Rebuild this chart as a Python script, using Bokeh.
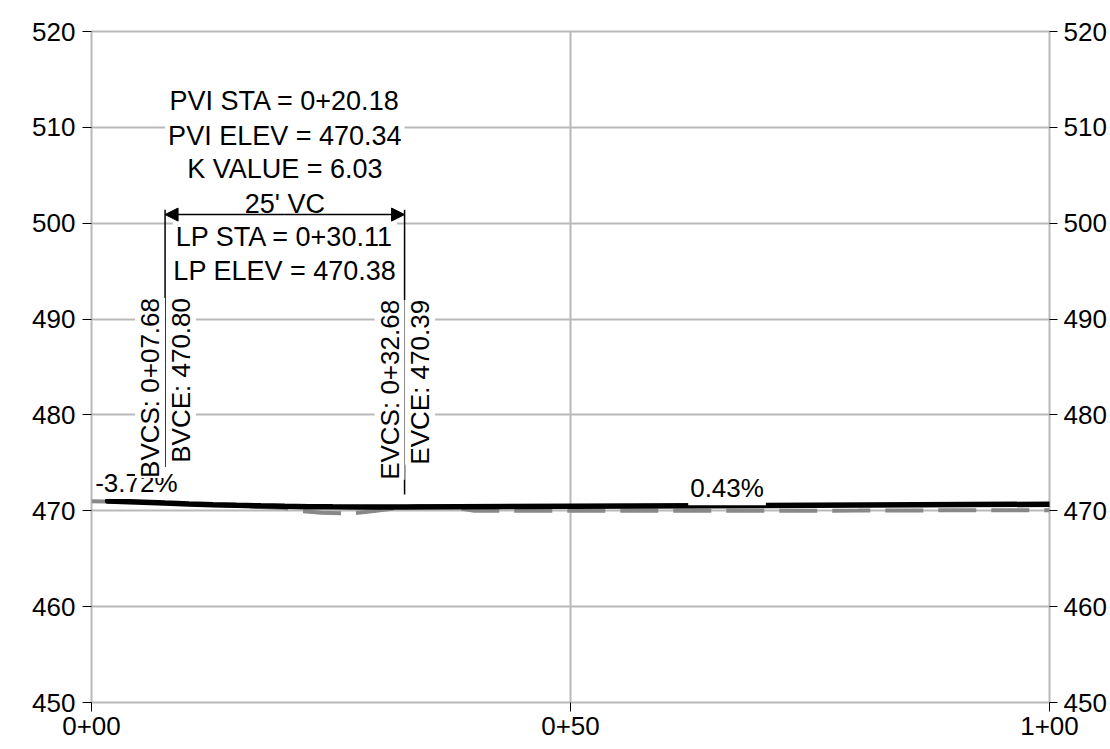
from bokeh.plotting import figure
from bokeh.models import Range1d, LinearAxis, FixedTicker, Label, Arrow, NormalHead
from bokeh.embed import file_html
from bokeh.resources import INLINE

# ---------------- data ----------------
station_ticks = [0, 50, 100]
station_labels = ["0+00", "0+50", "1+00"]
elev_ticks = [450, 460, 470, 480, 490, 500, 510, 520]

# design (finished grade) profile: tangent, sag vertical curve, tangent
design_sta = [1.68, 7.68, 10.18, 12.68, 15.18, 17.68, 20.18, 22.68, 25.18, 27.68, 30.18, 32.68, 100.0]
design_elev = [471.03, 470.805, 470.717, 470.640, 470.573, 470.516, 470.470, 470.434,
               470.408, 470.393, 470.388, 470.394, 470.683]

# existing ground profile (dashed grey)
ground_sta = [0, 5, 10, 15, 20, 22, 24, 27, 29.5, 32, 34, 37, 40, 50, 60, 70, 80, 90, 100]
ground_elev = [471.0, 470.88, 470.70, 470.52, 470.30, 469.95, 469.80, 469.72, 469.97, 470.30,
               470.50, 470.45, 470.00, 470.00, 470.00, 470.00, 470.02, 470.05, 470.06]

# vertical curve data
pvi_sta, pvi_elev = 20.18, 470.34
bvc_sta, bvc_elev = 7.68, 470.80
evc_sta, evc_elev = 32.68, 470.39
lp_sta, lp_elev = 30.11, 470.38
k_value = 6.03
vc_length = 25
grade_in, grade_out = -3.72, 0.43
grade_in_sta = (design_sta[0] + bvc_sta) / 2
grade_out_sta = (evc_sta + design_sta[-1]) / 2


def fmt_sta(s):
    return f"{int(s // 100)}+{s % 100:05.2f}"


# ---------------- layout constants ----------------
FONT = "Liberation Sans"
FS = "26px"
FS_BLOCK = "27px"
GRID = "#b9b9b9"

p = figure(width=1109, height=746, output_backend="svg", toolbar_location=None,
           x_range=Range1d(0, 100), y_range=Range1d(450, 520),
           min_border_left=91, min_border_top=31, min_border_right=58, min_border_bottom=44)
p.outline_line_color = GRID
p.outline_line_width = 2
p.background_fill_color = "white"
p.border_fill_color = "white"

# axes
for ax in (p.xaxis[0], p.yaxis[0]):
    ax.axis_line_color = None
    ax.major_tick_line_color = "black"
    ax.major_tick_out = 9
    ax.major_tick_in = 0
    ax.minor_tick_line_color = None
    ax.major_label_text_font = FONT
    ax.major_label_text_font_size = FS
    ax.major_label_text_color = "black"

p.xaxis[0].ticker = FixedTicker(ticks=station_ticks)
p.xaxis[0].major_label_overrides = {t: l for t, l in zip(station_ticks, station_labels)}
p.xaxis[0].major_label_standoff = 5
p.yaxis[0].ticker = FixedTicker(ticks=elev_ticks)
p.yaxis[0].major_label_standoff = 7

right = LinearAxis(ticker=FixedTicker(ticks=elev_ticks))
right.axis_line_color = None
right.major_tick_line_color = "black"
right.major_tick_out = 8
right.major_tick_in = 0
right.minor_tick_line_color = None
right.major_label_text_font = FONT
right.major_label_text_font_size = FS
right.major_label_text_color = "black"
right.major_label_standoff = 6
p.add_layout(right, "right")

p.xgrid[0].ticker = FixedTicker(ticks=station_ticks)
p.ygrid[0].ticker = FixedTicker(ticks=elev_ticks)
for g in (p.xgrid[0], p.ygrid[0]):
    g.grid_line_color = GRID
    g.grid_line_width = 2

# profiles
p.line(ground_sta, ground_elev, line_color="#888888", line_width=4, line_dash="38 15")
p.line(design_sta, design_elev, line_color="black", line_width=5.5, line_cap="round")

# BVC / EVC vertical marker lines
p.segment(x0=[bvc_sta, evc_sta], y0=[471.7, 471.7], x1=[bvc_sta, evc_sta], y1=[501.4, 501.4],
          line_color="black", line_width=1.5)


def lab(text, x, y, **kw):
    opts = dict(text_font=FONT, text_font_size=FS, text_color="black",
                text_align="center", text_baseline="middle",
                background_fill_color="white", padding=3)
    opts.update(kw)
    p.add_layout(Label(x=x, y=y, text=text, **opts))


# curve info block
lab(f"PVI STA = {fmt_sta(pvi_sta)}", pvi_sta, 512.75, text_font_size=FS_BLOCK)
lab(f"PVI ELEV = {pvi_elev:.2f}", pvi_sta, 509.1, text_font_size=FS_BLOCK)
lab(f"K VALUE = {k_value:.2f}", pvi_sta, 505.65, text_font_size=FS_BLOCK)
lab(f"{vc_length}' VC", pvi_sta, 502.05, text_font_size=FS_BLOCK)
lab(f"LP STA = {fmt_sta(lp_sta)}", pvi_sta, 498.55, text_font_size=FS_BLOCK)
lab(f"LP ELEV = {lp_elev:.2f}", pvi_sta, 495.0, text_font_size=FS_BLOCK)

# grade labels
lab(f"{grade_in:.2f}%", grade_in_sta, 472.9, padding=1)
lab(f"{grade_out:.2f}%", grade_out_sta, 472.35, padding=2)

# rotated station / elevation labels (read bottom-to-top, either side of the marker line)
rot = dict(angle=90, angle_units="deg", text_align="right", padding=0)
lab(f"BVCS: {fmt_sta(bvc_sta)}", bvc_sta, 492.2, x_offset=0, text_baseline="bottom", **rot)
lab(f"BVCE: {bvc_elev:.2f}", bvc_sta, 492.2, x_offset=1, text_baseline="top", **rot)
lab(f"EVCS: {fmt_sta(evc_sta)}", evc_sta, 492.0, x_offset=0, text_baseline="bottom", **rot)
lab(f"EVCE: {evc_elev:.2f}", evc_sta, 492.0, x_offset=0.5, text_baseline="top", **rot)

# vertical curve length dimension arrow
p.add_layout(Arrow(x_start=pvi_sta, y_start=500.9, x_end=bvc_sta, y_end=500.9,
                   end=NormalHead(size=13, fill_color="black", line_color="black"),
                   line_color="black", line_width=1.5))
p.add_layout(Arrow(x_start=pvi_sta, y_start=500.9, x_end=evc_sta, y_end=500.9,
                   end=NormalHead(size=13, fill_color="black", line_color="black"),
                   line_color="black", line_width=1.5))

open("out.html", "w").write(file_html(p, INLINE))
